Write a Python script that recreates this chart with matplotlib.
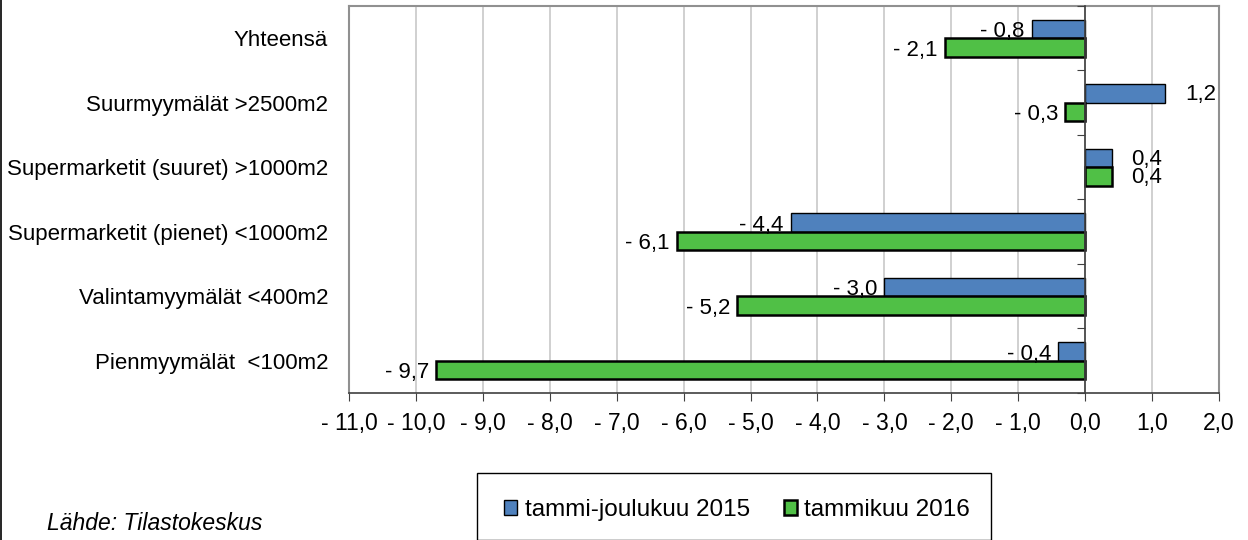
import numpy as np
import matplotlib.pyplot as plt
from matplotlib.lines import Line2D
from matplotlib.patches import Rectangle

plt.rcParams['font.family'] = ['Liberation Sans', 'DejaVu Sans']

kategoriat = ['Yhteensä', 'Suurmyymälät >2500m2', 'Supermarketit (suuret) >1000m2',
              'Supermarketit (pienet) <1000m2', 'Valintamyymälät <400m2', 'Pienmyymälät  <100m2']
v2015 = [-0.8, 1.2, 0.4, -4.4, -3.0, -0.4]
v2016 = [-2.1, -0.3, 0.4, -6.1, -5.2, -9.7]
sarjat = ['tammi-joulukuu 2015', 'tammikuu 2016']
xticks = np.arange(-11, 3, 1)

def fi(v):
    s = '{:.1f}'.format(abs(v)).replace('.', ',')
    if v < -0.04:
        return '- ' + s
    return s

fig = plt.figure(figsize=(12.48, 5.4), dpi=100)
ax = fig.add_axes([349/1248, 1 - 393/540, 870/1248, 387/540])

n = len(kategoriat)
y = np.arange(n)
h = 0.29
b1 = ax.barh(y - h/2, v2015, height=h, color='#4F81BD', edgecolor='black', linewidth=1.0, label=sarjat[0], zorder=3)
b2 = ax.barh(y + h/2, v2016, height=h, color='#50C046', edgecolor='black', linewidth=1.8, label=sarjat[1], zorder=3)

for bars, vals in [(b1, v2015), (b2, v2016)]:
    for r, v in zip(bars, vals):
        yc = r.get_y() + r.get_height()/2
        if v < 0:
            ax.annotate(fi(v), (v, yc), xytext=(-5, -2), textcoords='offset points',
                        ha='right', va='center', fontsize=16)
        else:
            ax.annotate(fi(v), (v, yc), xytext=(14, -1), textcoords='offset points',
                        ha='left', va='center', fontsize=16)

ax.set_xlim(-11, 2)
ax.set_ylim(n - 0.5, -0.5)
ax.set_xticks(xticks)
ax.set_xticklabels([fi(t) for t in xticks], fontsize=16.5)
ax.set_yticks(y)
ax.set_yticklabels(kategoriat, fontsize=16)
ax.tick_params(axis='y', length=0, pad=15)
ax.tick_params(axis='x', length=6, direction='out', color='#404040', pad=8)
ax.grid(axis='x', color='#c8c8c8', linewidth=1.2, zorder=0)
for s in ['top', 'left', 'right']:
    ax.spines[s].set_color('#909090')
    ax.spines[s].set_linewidth(1.5)
ax.spines['bottom'].set_color('#404040')
ax.spines['bottom'].set_linewidth(1.2)

# nolla-akseli
ax2 = ax.twinx()
ax2.set_ylim(ax.get_ylim())
ax2.spines['left'].set_position(('data', 0))
ax2.spines['left'].set_color('#404040')
ax2.spines['left'].set_linewidth(1.2)
for s in ['top', 'right', 'bottom']:
    ax2.spines[s].set_visible(False)
ax2.yaxis.set_ticks_position('left')
ax2.set_yticks(np.arange(-0.5, n, 1))
ax2.set_yticklabels([])
ax2.tick_params(axis='y', length=6, direction='out', color='#404040')
ax2.set_zorder(ax.get_zorder() + 1)
ax2.patch.set_visible(False)

# selite
fig.add_artist(Rectangle((477/1248, 0), 514/1248, 67/540, transform=fig.transFigure,
                         fill=False, edgecolor='black', linewidth=1.0))
fig.legend(handles=[b1, b2], labels=sarjat, loc='center', bbox_to_anchor=(737/1248, 1 - 510/540),
           ncol=2, frameon=False, fontsize=17.5, handlelength=0.55, handleheight=0.55,
           handletextpad=0.3, columnspacing=1.4)

fig.text(47/1248, 1 - 523/540, 'Lähde: Tilastokeskus', fontsize=16.5, style='italic', va='center')
fig.add_artist(Line2D([0.0006, 0.0006], [0, 1], transform=fig.transFigure, color='black', linewidth=1.2))

plt.savefig('out.png', dpi=100)
